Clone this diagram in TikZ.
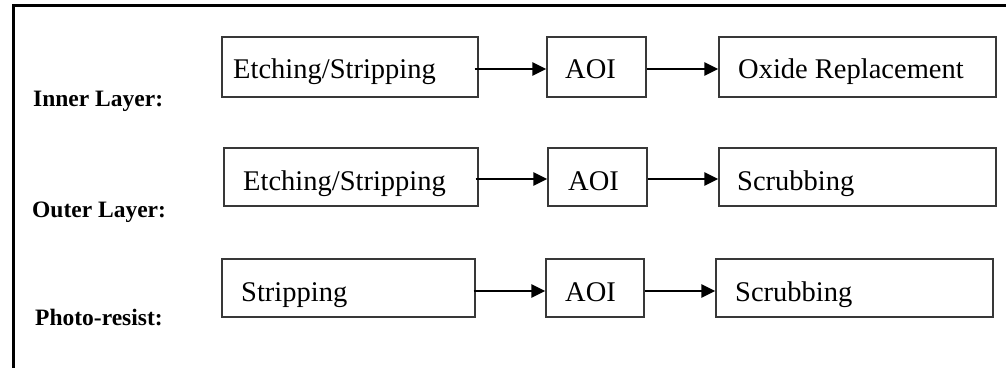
\documentclass[tikz,border=0pt]{standalone}
\usepackage{fontspec}
\setmainfont{Liberation Serif}
\usetikzlibrary{arrows.meta}
\begin{document}
\begin{tikzpicture}[x=1pt,y=-1pt,
  box/.style={draw=black!78, line width=1.4pt, minimum height=60pt, inner sep=0pt, rectangle},
  txt/.style={font=\fontsize{28.5}{30}\selectfont, anchor=base west, inner sep=0pt},
  lbl/.style={font=\fontsize{23.5}{25}\selectfont\bfseries, anchor=base west, inner sep=0pt},
  arr/.style={line width=2.8pt, -{Triangle[length=14pt,width=13pt]}},
  frame/.style={line width=2.6pt}]
\useasboundingbox (0,0) rectangle (1006,367);
\fill[white] (0,0) rectangle (1006,367);
% frame
\coordinate (fb) at (13.5,368);
\coordinate (fc) at (13.5,5.5);
\coordinate (fr) at (1007,5.5);
\draw[frame] (fb) -- (fc) -- (fr);
% row labels
\node[lbl] (l1) at (33,106) {Inner Layer:};
\node[lbl] (l2) at (32,217) {Outer Layer:};
\node[lbl] (l3) at (35,325) {Photo-resist:};
% row 1
\node[box, minimum width=256pt, minimum height=60pt] (a1) at (350,67) {};
\node[box, minimum width=99pt,  minimum height=60pt] (b1) at (596.5,67) {};
\node[box, minimum width=277pt, minimum height=60pt] (c1) at (857.5,67) {};
\node[txt] (ta1) at (233,78) {Etching/Stripping};
\node[txt] (tb1) at (565,78) {AOI};
\node[txt] (tc1) at (738,78) {Oxide Replacement};
% row 2
\node[box, minimum width=254pt, minimum height=58pt] (a2) at (351,177) {};
\node[box, minimum width=99pt,  minimum height=58pt] (b2) at (597.5,177) {};
\node[box, minimum width=277pt, minimum height=58pt] (c2) at (857.5,177) {};
\node[txt] (ta2) at (243,190) {Etching/Stripping};
\node[txt] (tb2) at (568,190) {AOI};
\node[txt] (tc2) at (737,190) {Scrubbing};
% row 3
\node[box, minimum width=253pt, minimum height=58pt] (a3) at (348.5,288) {};
\node[box, minimum width=98pt,  minimum height=58pt] (b3) at (595,288) {};
\node[box, minimum width=277pt, minimum height=58pt] (c3) at (854.5,288) {};
\node[txt] (ta3) at (241,301) {Stripping};
\node[txt] (tb3) at (565,301) {AOI};
\node[txt] (tc3) at (735,301) {Scrubbing};
% arrows
\draw[arr] ([xshift=-4pt,yshift=-2pt]a1.east) -- ([yshift=-2pt]b1.west);
\draw[arr] ([yshift=-2pt]b1.east) -- ([yshift=-2pt]c1.west);
\draw[arr] ([xshift=-3pt,yshift=-2pt]a2.east) -- ([yshift=-2pt]b2.west);
\draw[arr] ([yshift=-2pt]b2.east) -- ([yshift=-2pt]c2.west);
\draw[arr] ([xshift=-2pt,yshift=-3pt]a3.east) -- ([yshift=-3pt]b3.west);
\draw[arr] ([yshift=-3pt]b3.east) -- ([yshift=-3pt]c3.west);
\end{tikzpicture}
\end{document}
